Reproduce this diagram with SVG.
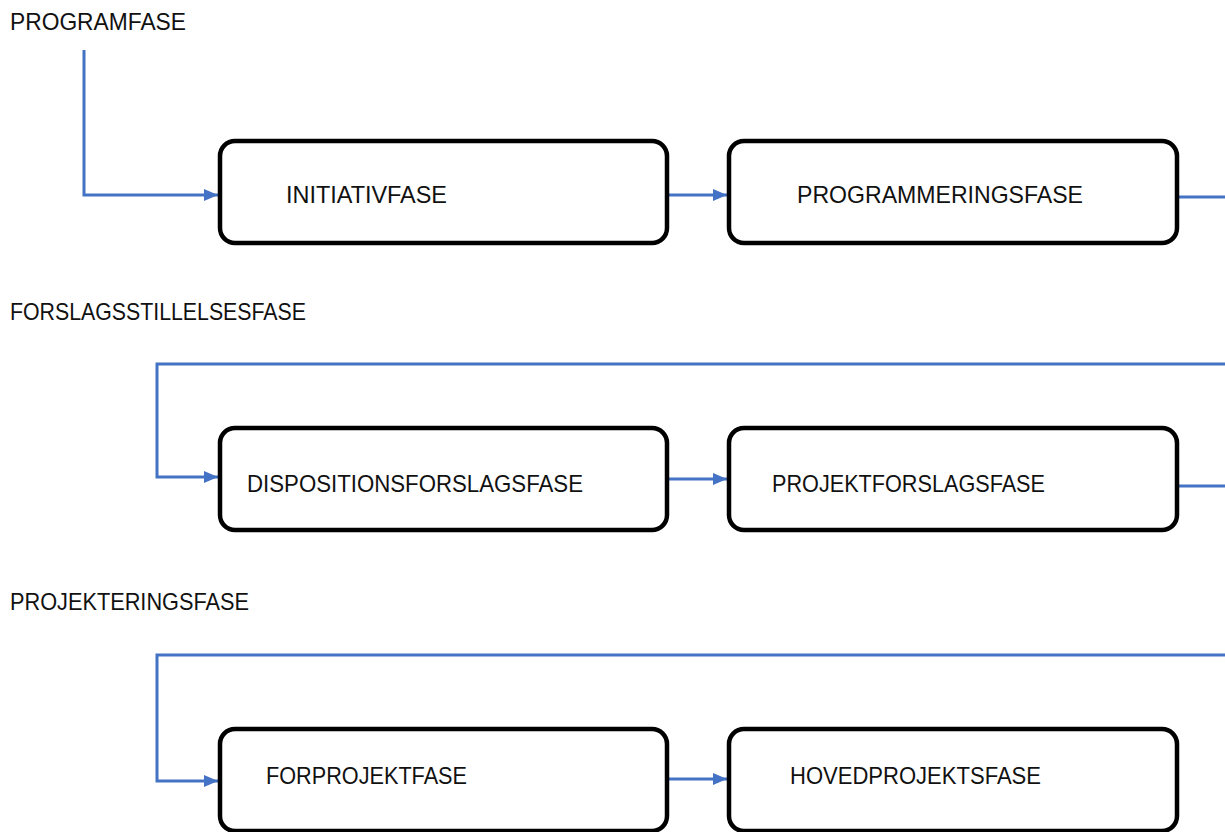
<svg xmlns="http://www.w3.org/2000/svg" width="1225" height="832" viewBox="0 0 1225 832">
<defs>
<style>
.box{fill:#fff;stroke:#000;stroke-width:4.5}
.t{font-family:"Liberation Sans",Arial,sans-serif;font-size:24px;fill:#111}
.c{fill:none;stroke:#4472C4;stroke-width:3}
</style>
<marker id="ah" markerWidth="14" markerHeight="12" refX="14" refY="6" orient="auto" markerUnits="userSpaceOnUse" viewBox="0 0 14 12">
<path d="M0,0 L14,6 L0,12 z" fill="#4472C4"/>
</marker>
</defs>
<rect width="1225" height="832" fill="#fff"/>
<g id="labels">
<text class="t" x="10" y="30" textLength="176" lengthAdjust="spacingAndGlyphs">PROGRAMFASE</text>
<text class="t" x="10" y="320" textLength="296" lengthAdjust="spacingAndGlyphs">FORSLAGSSTILLELSESFASE</text>
<text class="t" x="10" y="610" textLength="239" lengthAdjust="spacingAndGlyphs">PROJEKTERINGSFASE</text>
</g>
<g id="connectors">
<path class="c" d="M84,50 V195 H218" marker-end="url(#ah)"/>
<path class="c" d="M668,195 H727" marker-end="url(#ah)"/>
<path class="c" d="M1178,197 H1225"/>
<path class="c" d="M1225,364 H157 V477 H218" marker-end="url(#ah)"/>
<path class="c" d="M668,479 H727" marker-end="url(#ah)"/>
<path class="c" d="M1178,486 H1225"/>
<path class="c" d="M1225,655 H157 V781 H218" marker-end="url(#ah)"/>
<path class="c" d="M668,779 H727" marker-end="url(#ah)"/>
</g>
<g id="initiativfase">
<rect class="box" x="220" y="141" width="447" height="102" rx="15"/>
<text class="t" x="286" y="203" textLength="161" lengthAdjust="spacingAndGlyphs">INITIATIVFASE</text>
</g>
<g id="programmeringsfase">
<rect class="box" x="729" y="141" width="448" height="102" rx="15"/>
<text class="t" x="797" y="203" textLength="286" lengthAdjust="spacingAndGlyphs">PROGRAMMERINGSFASE</text>
</g>
<g id="dispositionsforslagsfase">
<rect class="box" x="220" y="428" width="447" height="102" rx="15"/>
<text class="t" x="247" y="492" textLength="336" lengthAdjust="spacingAndGlyphs">DISPOSITIONSFORSLAGSFASE</text>
</g>
<g id="projektforslagsfase">
<rect class="box" x="729" y="428" width="448" height="102" rx="15"/>
<text class="t" x="772" y="492" textLength="273" lengthAdjust="spacingAndGlyphs">PROJEKTFORSLAGSFASE</text>
</g>
<g id="forprojektfase">
<rect class="box" x="220" y="729" width="447" height="102" rx="15"/>
<text class="t" x="266" y="784" textLength="201" lengthAdjust="spacingAndGlyphs">FORPROJEKTFASE</text>
</g>
<g id="hovedprojektsfase">
<rect class="box" x="729" y="729" width="448" height="102" rx="15"/>
<text class="t" x="790" y="784" textLength="251" lengthAdjust="spacingAndGlyphs">HOVEDPROJEKTSFASE</text>
</g>
</svg>
